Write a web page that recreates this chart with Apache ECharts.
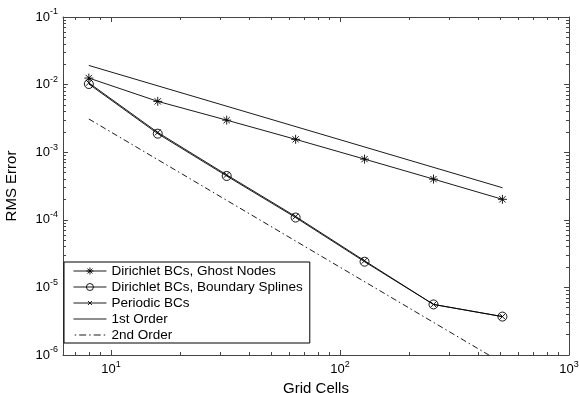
<!DOCTYPE html>
<html><head><meta charset="utf-8">
<script src="https://cdn.jsdelivr.net/npm/echarts@6/dist/echarts.min.js"></script>
<style>html,body{margin:0;padding:0;background:#fff}#c{width:579px;height:393px}</style>
</head><body><div id="c"></div>
<script>
// ---- data ----
const gridCells = [8, 16, 32, 64, 128, 256, 512];
const ghostNodes = [0.0125, 0.00565, 0.00298, 0.00155, 0.00079, 0.000400, 0.000201];
const boundarySplines = [0.0102, 0.00188, 0.000445, 0.000108, 0.0000240, 0.0000056, 0.0000037];
const periodicBCs = [0.0106, 0.00196, 0.000462, 0.000112, 0.0000248, 0.0000056, 0.0000037];
const refX = [8, 512];
const firstOrder = [0.0192, 0.000298];
const secondOrder = [0.0031, 0.00000076];
const seriesNames = ['Dirichlet BCs, Ghost Nodes', 'Dirichlet BCs, Boundary Splines', 'Periodic BCs', '1st Order', '2nd Order'];
const xTickExps = [1, 2, 3];
const yTickExps = [-6, -5, -4, -3, -2, -1];
const minorMultipliers = [2, 3, 4, 5, 6, 7, 8, 9];
const xLimits = [6.17, 1000];
const yLimits = [1e-6, 1e-1];

// ---- helpers ----
const L = Math.log10;
const FONT = 'Liberation Sans';
const toPts = (xs, ys) => xs.map((x, i) => [L(x), L(ys[i])]);
function minorVals(lo, hi) {
  const out = [];
  for (let e = Math.floor(L(lo)); e < Math.ceil(L(hi)); e++) {
    minorMultipliers.forEach(k => {
      const v = L(k * Math.pow(10, e));
      if (v > L(lo) + 1e-9 && v < L(hi) - 1e-9) out.push(v);
    });
  }
  return out;
}
const xMinor = minorVals(xLimits[0], xLimits[1]);
const yMinor = minorVals(yLimits[0], yLimits[1]);
const rich = {
  b: { fontSize: 13, fontFamily: FONT, color: '#000' },
  s: { fontSize: 9, fontFamily: FONT, color: '#000', padding: [0, 0, 10, 0] }
};
const fmt = v => '{b|10}{s|' + Math.round(v) + '}';
const axC = '#444';

function xAx(grid, pos, major, labels) {
  return {
    type: 'value', gridIndex: grid, position: pos,
    min: L(xLimits[0]), max: L(xLimits[1]),
    splitLine: { show: false },
    axisLine: { show: major, lineStyle: { color: axC, width: 1 } },
    axisTick: { show: true, inside: true, length: major ? 5 : 3,
      customValues: major ? xTickExps : xMinor, lineStyle: { color: axC, width: 1 } },
    axisLabel: labels ? { show: true, customValues: xTickExps, formatter: fmt, rich: rich, margin: 5 } : { show: false },
    name: labels ? 'Grid Cells' : '', nameLocation: 'middle', nameGap: 22,
    nameTextStyle: { fontSize: 15, fontFamily: FONT, color: '#000' }
  };
}
function yAx(grid, pos, major, labels) {
  return {
    type: 'value', gridIndex: grid, position: pos,
    min: L(yLimits[0]), max: L(yLimits[1]),
    splitLine: { show: false },
    axisLine: { show: major, lineStyle: { color: axC, width: 1 } },
    axisTick: { show: true, inside: true, length: major ? 5 : 3,
      customValues: major ? yTickExps : yMinor, lineStyle: { color: axC, width: 1 } },
    axisLabel: labels ? { show: true, customValues: yTickExps, formatter: fmt, rich: rich, margin: 5 } : { show: false },
    name: labels ? 'RMS Error' : '', nameLocation: 'middle', nameGap: 44, nameRotate: 90,
    nameTextStyle: { fontSize: 15, fontFamily: FONT, color: '#000' }
  };
}
const gridRect = { left: 63, top: 17, right: 10, bottom: 38, containLabel: false, outerBoundsMode: 'none' };

const asterisk = 'path://M5,0L5,10M0,5L10,5M1.5,1.5L8.5,8.5M1.5,8.5L8.5,1.5';
const cross = 'path://M0,0L10,10M0,10L10,0';
const ring = 'path://M10,5A5,5,0,1,1,0,5A5,5,0,1,1,10,5Z';
const mk = { color: 'rgba(0,0,0,0)', borderColor: '#000', borderWidth: 0.9 };

// legend icons: line sample + marker, 33x10 box (degenerate points pin the box height)
const pin = 'M16.5,0L16.5,0M16.5,10L16.5,10';
const legendIcons = [
  'path://M0,5L33,5M16.5,1.5L16.5,8.5M13,5L20,5M14,2.5L19,7.5M14,7.5L19,2.5' + pin,
  'path://M0,5L33,5M20,5A3.5,3.5,0,1,1,13,5A3.5,3.5,0,1,1,20,5' + pin,
  'path://M0,5L33,5M14.5,3L18.5,7M14.5,7L18.5,3' + pin,
  'path://M0,5L33,5' + pin,
  'path://M0,5L1.5,5M4.5,5L11.5,5M14.5,5L16,5M19,5L26,5M29,5L30.5,5' + pin
];

const chart = echarts.init(document.getElementById('c'), null, { renderer: 'canvas' });
chart.setOption({
  animation: false,
  backgroundColor: '#fff',
  grid: [Object.assign({}, gridRect), Object.assign({}, gridRect)],
  xAxis: [xAx(0, 'bottom', true, true), xAx(0, 'top', true, false), xAx(1, 'bottom', false, false), xAx(1, 'top', false, false)],
  yAxis: [yAx(0, 'left', true, true), yAx(0, 'right', true, false), yAx(1, 'left', false, false), yAx(1, 'right', false, false)],
  legend: {
    orient: 'vertical', left: 64, top: 262,
    itemWidth: 33, itemHeight: 10, itemGap: 2,
    padding: [2, 7, 1, 9],
    borderColor: '#000', borderWidth: 1, backgroundColor: '#fff',
    textStyle: { fontSize: 13.5, fontFamily: FONT, color: '#000' },
    itemStyle: { color: 'rgba(0,0,0,0)', borderColor: '#000', borderWidth: 0.9 },
    symbolKeepAspect: true,
    data: seriesNames.map((n, i) => ({ name: n, icon: legendIcons[i] }))
  },
  series: [
    { name: seriesNames[0], type: 'line', data: toPts(gridCells, ghostNodes), symbol: asterisk, symbolSize: 9,
      lineStyle: { color: '#000', width: 0.9 }, itemStyle: mk },
    { name: seriesNames[1], type: 'line', data: toPts(gridCells, boundarySplines), symbol: ring, symbolSize: 9,
      lineStyle: { color: '#000', width: 0.9 }, itemStyle: mk },
    { name: seriesNames[2], type: 'line', data: toPts(gridCells, periodicBCs), symbol: cross, symbolSize: 6,
      lineStyle: { color: '#000', width: 0.9 }, itemStyle: mk },
    { name: seriesNames[3], type: 'line', data: toPts(refX, firstOrder), symbol: 'none', showSymbol: false,
      lineStyle: { color: '#000', width: 0.9 }, itemStyle: { color: '#000' } },
    { name: seriesNames[4], type: 'line', data: toPts(refX, secondOrder), symbol: 'none', showSymbol: false,
      lineStyle: { color: '#000', width: 0.9, type: [6, 3, 1.5, 3] }, itemStyle: { color: '#000' } }
  ]
});
</script></body></html>
